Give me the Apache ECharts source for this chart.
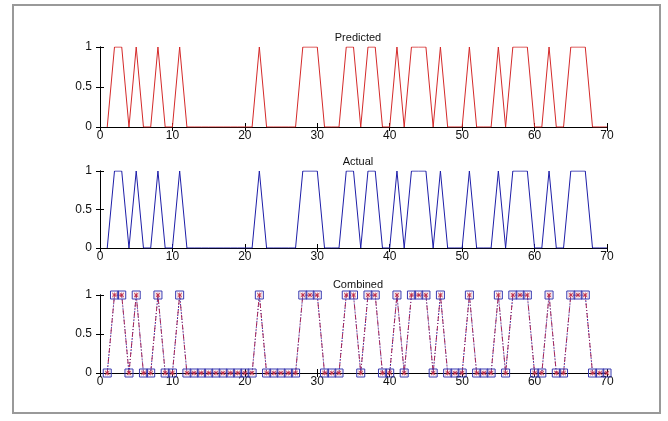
<!DOCTYPE html>
<html>
<head>
<meta charset="utf-8">
<script src="https://cdn.jsdelivr.net/npm/echarts@6/dist/echarts.min.js"></script>
<style>
  html, body { margin: 0; padding: 0; background: #fff; }
  #chart { width: 668px; height: 421px; }
</style>
</head>
<body>
<div id="chart"></div>
<script>
// values for samples 1..70
const predicted = [0, 1, 1, 0, 1, 0, 0, 1, 0, 0,
    1, 0, 0, 0, 0, 0, 0, 0, 0, 0,
    0, 1, 0, 0, 0, 0, 0, 1, 1, 1,
    0, 0, 0, 1, 1, 0, 1, 1, 0, 0,
    1, 0, 1, 1, 1, 0, 1, 0, 0, 0,
    1, 0, 0, 0, 1, 0, 1, 1, 1, 0,
    0, 1, 0, 0, 1, 1, 1, 0, 0, 0];
const actual = [0, 1, 1, 0, 1, 0, 0, 1, 0, 0,
    1, 0, 0, 0, 0, 0, 0, 0, 0, 0,
    0, 1, 0, 0, 0, 0, 0, 1, 1, 1,
    0, 0, 0, 1, 1, 0, 1, 1, 0, 0,
    1, 0, 1, 1, 1, 0, 1, 0, 0, 0,
    1, 0, 0, 0, 1, 0, 1, 1, 1, 0,
    0, 1, 0, 0, 1, 1, 1, 0, 0, 0];
const titles = ['Predicted', 'Actual', 'Combined'];
const xTicks = [0, 10, 20, 30, 40, 50, 60, 70];
const yTicks = [0, 0.5, 1];

const RED = '#d42a2a';
const BLUE = '#1e1ea8';
const ASTERISK = 'path://M4.3,0H5.7V10H4.3Z M0,4.3H10V5.7H0Z M0,1L1,0L10,9L9,10Z M9,0L10,1L1,10L0,9Z';

const tops = [47, 171, 295];
const heights = [80, 77, 78];
const titleTops = [27, 151, 274];

function toPoints(values) {
    return values.map((v, i) => [i + 1, v]);
}

let chartDom = document.getElementById('chart');
let myChart = echarts.init(chartDom);

let grid = [];
let xAxis = [];
let yAxis = [];
let title = [];

const labelFont = { color: '#111', fontSize: 12, fontFamily: 'Liberation Sans, Arial, sans-serif' };

for (let i = 0; i < 3; i++) {
    grid.push({ left: 100, right: 61, top: tops[i], height: heights[i] });
    title.push({
        text: titles[i],
        left: 353,
        top: titleTops[i],
        textAlign: 'center',
        textStyle: { fontSize: 11, fontWeight: 'normal', color: '#111', fontFamily: 'Liberation Sans, Arial, sans-serif' }
    });
    // bottom + top x axes (box)
    xAxis.push({
        type: 'value', gridIndex: i, min: xTicks[0], max: xTicks[xTicks.length - 1], interval: 10,
        position: 'bottom',
        axisLine: { show: true, lineStyle: { color: '#000', width: 1 } },
        axisTick: { show: true, inside: true, length: 4, lineStyle: { color: '#000' } },
        axisLabel: { ...labelFont, margin: 3 },
        splitLine: { show: false }
    });
    xAxis.push({
        type: 'value', gridIndex: i, min: xTicks[0], max: xTicks[xTicks.length - 1], interval: 10,
        position: 'top',
        axisLine: { show: true, lineStyle: { color: '#000', width: 1 } },
        axisTick: { show: true, inside: true, length: 4, lineStyle: { color: '#000' } },
        axisLabel: { show: false },
        splitLine: { show: false }
    });
    yAxis.push({
        type: 'value', gridIndex: i, min: yTicks[0], max: yTicks[yTicks.length - 1], interval: 0.5,
        position: 'left',
        axisLine: { show: true, lineStyle: { color: '#000', width: 1 } },
        axisTick: { show: true, inside: true, length: 4, lineStyle: { color: '#000' } },
        axisLabel: { ...labelFont, margin: 8, formatter: v => String(v) },
        splitLine: { show: false }
    });
    yAxis.push({
        type: 'value', gridIndex: i, min: yTicks[0], max: yTicks[yTicks.length - 1], interval: 0.5,
        position: 'right',
        axisLine: { show: true, lineStyle: { color: '#000', width: 1 } },
        axisTick: { show: true, inside: true, length: 4, lineStyle: { color: '#000' } },
        axisLabel: { show: false },
        splitLine: { show: false }
    });
}

let series = [
    {
        name: 'Predicted', type: 'line', xAxisIndex: 0, yAxisIndex: 0,
        data: toPoints(predicted), showSymbol: false,
        lineStyle: { color: RED, width: 1 }
    },
    {
        name: 'Actual', type: 'line', xAxisIndex: 2, yAxisIndex: 2,
        data: toPoints(actual), showSymbol: false,
        lineStyle: { color: BLUE, width: 1 }
    },
    {
        name: 'Actual', type: 'line', xAxisIndex: 4, yAxisIndex: 4,
        data: toPoints(actual), symbol: 'rect', symbolSize: 8,
        itemStyle: { color: 'transparent', borderColor: '#3a3ab0', borderWidth: 1 },
        lineStyle: { color: BLUE, width: 1, type: [1, 2] }
    },
    {
        name: 'Predicted', type: 'line', xAxisIndex: 4, yAxisIndex: 4,
        data: toPoints(predicted), symbol: ASTERISK, symbolSize: 5,
        itemStyle: { color: '#c0304a' },
        lineStyle: { color: '#a8285a', width: 1, type: [5, 2, 1, 2] }
    }
];

let option = {
    animation: false,
    backgroundColor: '#fff',
    title,
    grid,
    xAxis,
    yAxis,
    series,
    graphic: [{
        type: 'rect',
        shape: { x: 13, y: 5, width: 647, height: 408 },
        style: { fill: 'none', stroke: '#999', lineWidth: 2 },
        silent: true
    }]
};

option && myChart.setOption(option);
</script>
</body>
</html>
